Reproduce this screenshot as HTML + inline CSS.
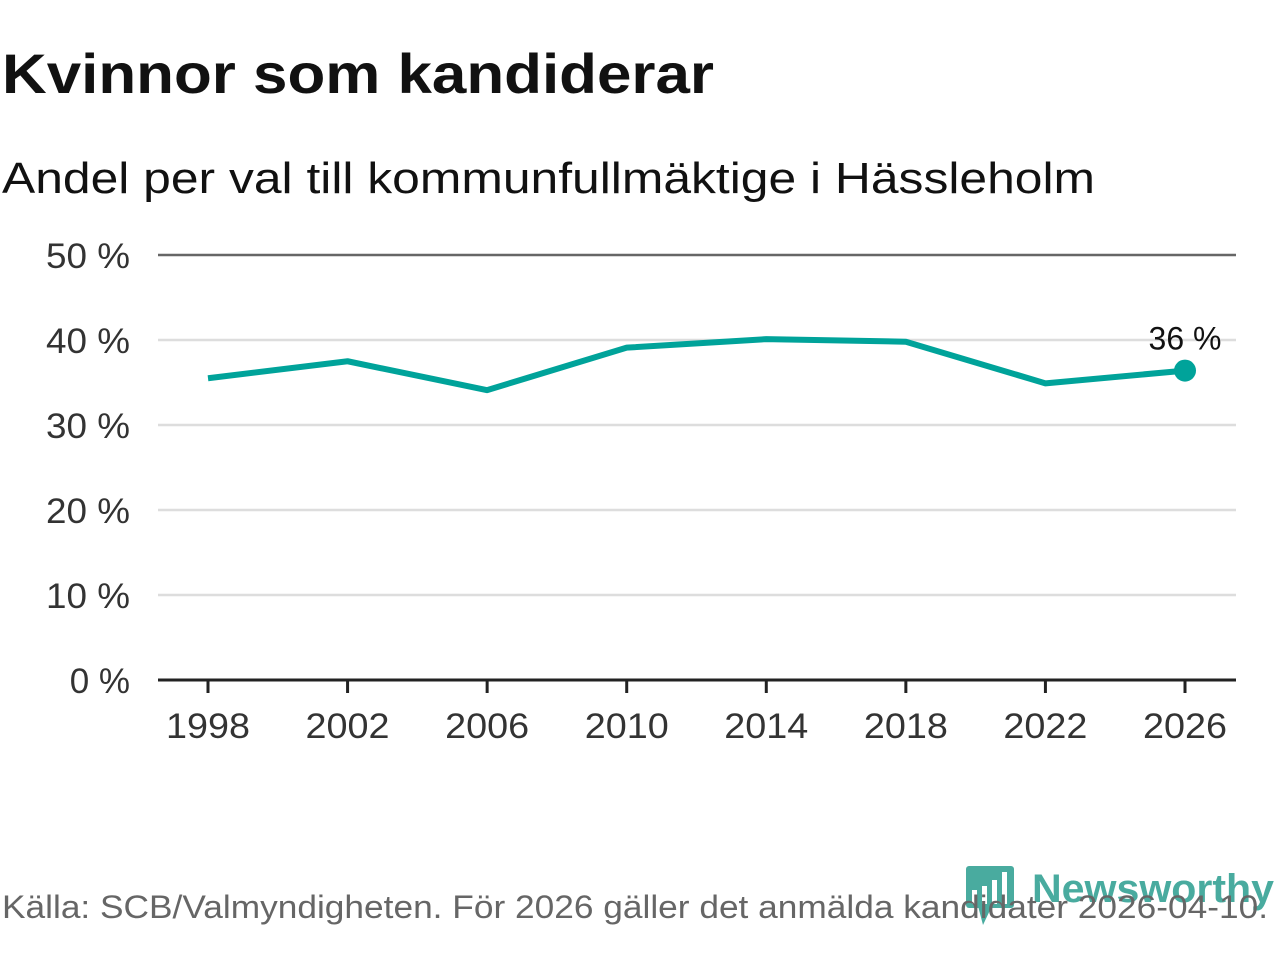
<!DOCTYPE html>
<html><head><meta charset="utf-8"><style>
body{margin:0;width:1280px;height:960px;background:#fff;font-family:"Liberation Sans","DejaVu Sans",sans-serif;overflow:hidden}
</style></head><body>
<svg width="1280" height="960" id="svg">
<text x="2" y="93" font-size="56" font-weight="bold" fill="#111" textLength="712" lengthAdjust="spacingAndGlyphs">Kvinnor som kandiderar</text>
<text x="2" y="193" font-size="44" fill="#111" textLength="1093" lengthAdjust="spacingAndGlyphs">Andel per val till kommunfullmäktige i Hässleholm</text>
<g id="grid"></g>
<g id="xaxis"></g>
<g id="series"></g>
<g opacity="0.85">
<rect x="966" y="866" width="48" height="42" rx="3" fill="#2a9d8f"/>
<polygon points="978,906 992,906 983,925" fill="#2a9d8f"/>
<rect x="972" y="890" width="5" height="14" fill="#fff"/><rect x="982" y="886" width="5" height="18" fill="#fff"/><rect x="992" y="880" width="5" height="24" fill="#fff"/><rect x="1002" y="872" width="5" height="32" fill="#fff"/>
<text x="1032" y="902" font-size="40" font-weight="bold" fill="#2a9d8f" textLength="242" lengthAdjust="spacingAndGlyphs">Newsworthy</text>
</g>
<text x="2" y="918" font-size="32" fill="#666" textLength="1266" lengthAdjust="spacingAndGlyphs">Källa: SCB/Valmyndigheten. För 2026 gäller det anmälda kandidater 2026-04-10.</text>
</svg>
<script>
const years=[1998,2002,2006,2010,2014,2018,2022,2026];
const values=[35.5,37.5,34.1,39.1,40.1,39.8,34.9,36.4];
const yTicks=[0,10,20,30,40,50];
const NS="http://www.w3.org/2000/svg";
const x=v=>208+(v-1998)/28*977;
const y=v=>680-v*8.5;
function mk(t,a,p,txt){const e=document.createElementNS(NS,t);for(const k in a)e.setAttribute(k,a[k]);if(txt!=null)e.textContent=txt;p.appendChild(e);return e;}
const g=document.getElementById('grid');
yTicks.forEach(t=>{
 const l=mk('line',{x1:158,x2:1236,y1:y(t),y2:y(t),stroke:t==0?'#222':(t==50?'#666':'#ddd'),'stroke-width':t==0?3:2.5},g);
 
 
 const a={x:130,y:y(t)+13,'font-size':35,fill:'#333','text-anchor':'end'};
 if(t>0){a.textLength=84;a.lengthAdjust='spacingAndGlyphs';}
 const tx=mk('text',a,g,t+' %');
 
 
});
const xa=document.getElementById('xaxis');
years.forEach(yr=>{
 const l=mk('line',{x1:x(yr),x2:x(yr),y1:680,y2:693,stroke:'#222','stroke-width':3},xa);
 
 
 const t=mk('text',{x:x(yr),y:738,'font-size':35,fill:'#333','text-anchor':'middle',textLength:84,lengthAdjust:'spacingAndGlyphs'},xa,yr);
 
 
});
const s=document.getElementById('series');
const p=mk('polyline',{points:years.map((yr,i)=>x(yr)+','+y(values[i])).join(' '),fill:'none',stroke:'#00a39a','stroke-width':6,'stroke-linejoin':'round'},s);


const li=years.length-1;
const c=mk('circle',{cx:x(years[li]),cy:y(values[li]),r:11,fill:'#00a39a'},s);


const lb=mk('text',{x:x(years[li]),y:y(values[li])-21,'font-size':32,fill:'#111','text-anchor':'middle'},s,Math.round(values[li])+' %');


</script>
</body></html>
